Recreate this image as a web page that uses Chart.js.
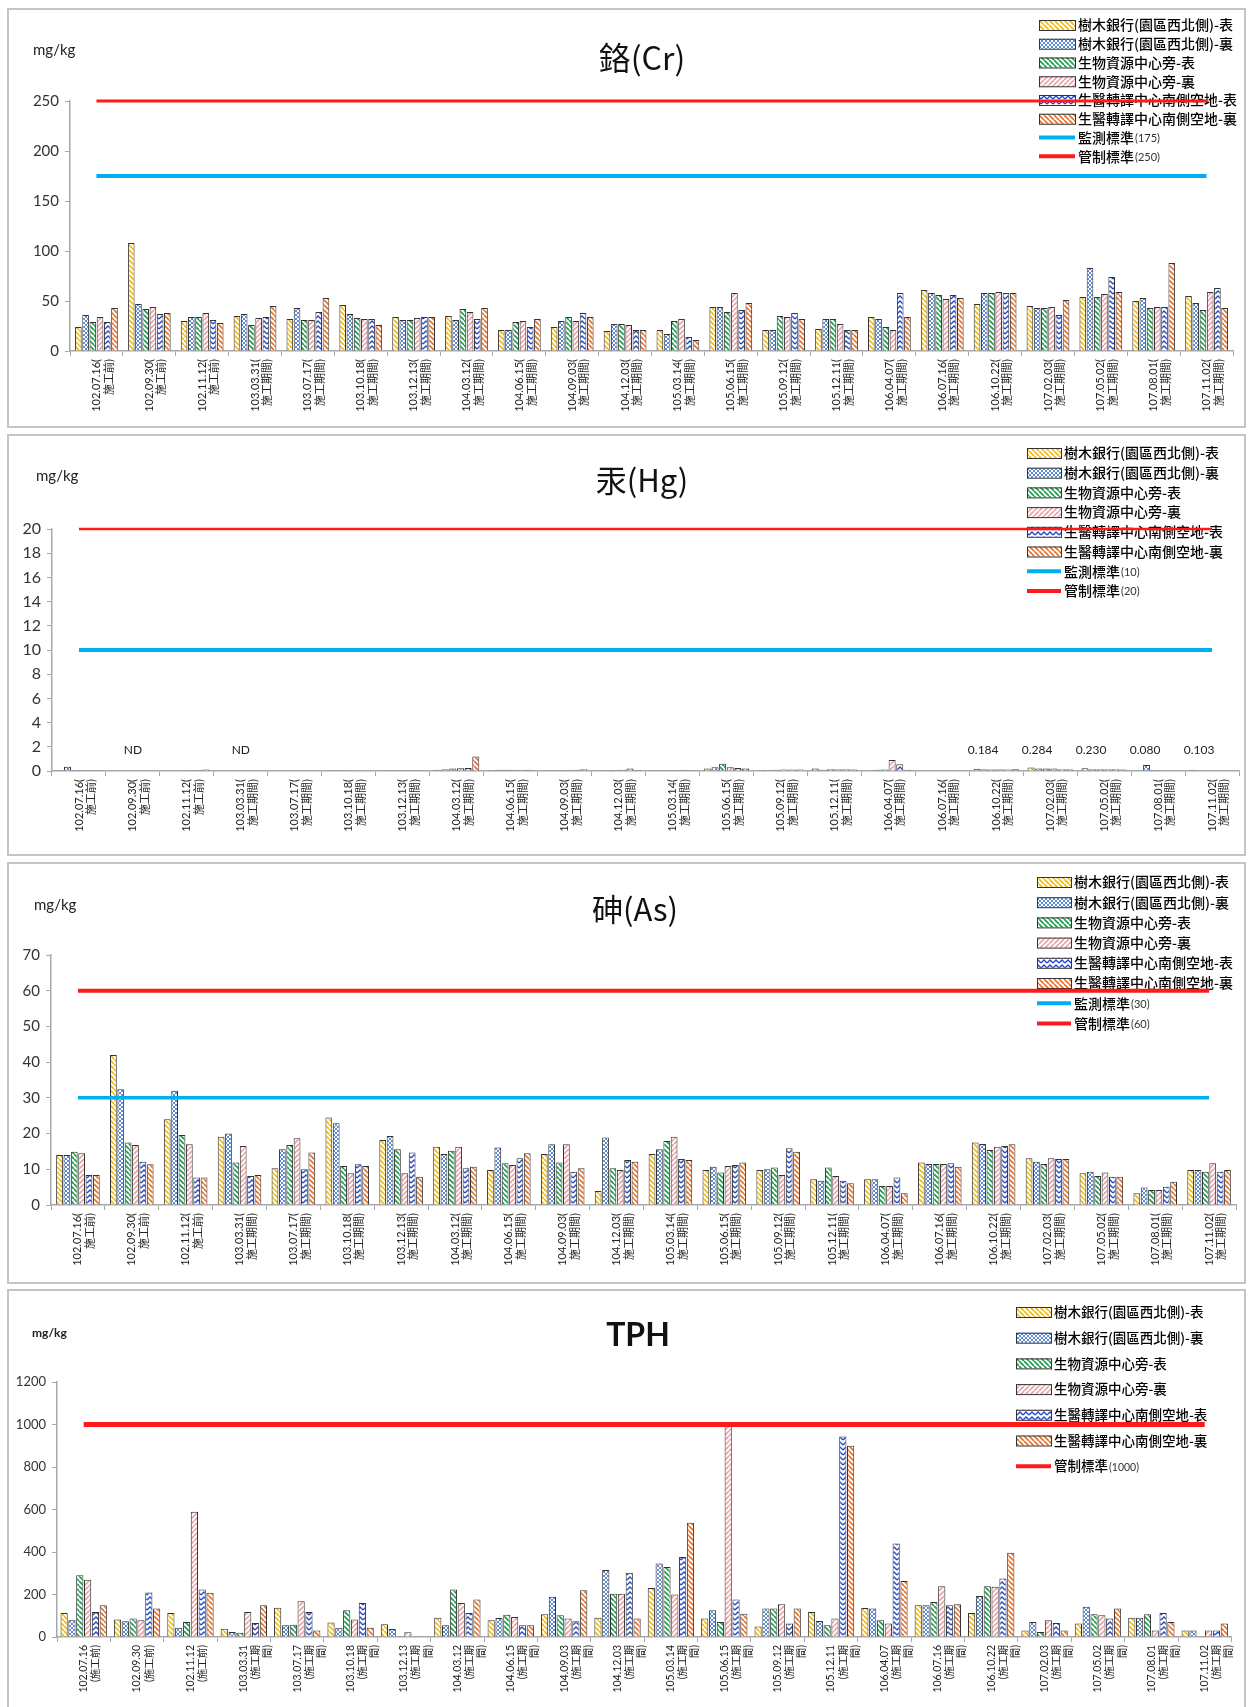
<!DOCTYPE html>
<html>
<head>
<meta charset="utf-8">
<script src="https://cdn.jsdelivr.net/npm/chart.js@4.4.1/dist/chart.umd.min.js"></script>
<style>
  body { margin: 0; background: #fff; width: 1250px; height: 1707px; overflow: hidden; position: relative; }
  .panel { position: absolute; box-sizing: border-box; border: 2px solid #c4c4c4; background: #fff; }
  .panel canvas { display: block; }
</style>
</head>
<body>
<div class="panel" style="left:7px;top:8px;width:1239px;height:420px"><canvas id="cr" width="1235" height="416"></canvas></div>
<div class="panel" style="left:7px;top:434px;width:1239px;height:422px"><canvas id="hg" width="1235" height="418"></canvas></div>
<div class="panel" style="left:7px;top:862px;width:1239px;height:422px"><canvas id="as" width="1235" height="418"></canvas></div>
<div class="panel" style="left:7px;top:1289px;width:1239px;height:420px"><canvas id="tph" width="1235" height="416"></canvas></div>
<script>
// sampling dates (ROC calendar) and construction phase
const dates = ['102.07.16','102.09.30','102.11.12','103.03.31','103.07.17','103.10.18','103.12.13',
  '104.03.12','104.06.15','104.09.03','104.12.03','105.03.14','105.06.15','105.09.12','105.12.11',
  '106.04.07','106.07.16','106.10.22','107.02.03','107.05.02','107.08.01','107.11.02'];
const phases = ['施工前','施工前','施工前','施工期間','施工期間','施工期間','施工期間','施工期間','施工期間',
  '施工期間','施工期間','施工期間','施工期間','施工期間','施工期間','施工期間','施工期間','施工期間',
  '施工期間','施工期間','施工期間','施工期間'];

const seriesNames = ['樹木銀行(園區西北側)-表','樹木銀行(園區西北側)-裏','生物資源中心旁-表',
  '生物資源中心旁-裏','生醫轉譯中心南側空地-表','生醫轉譯中心南側空地-裏'];

// 鉻 Cr
const crTreeTop   = [24,108,30,35,32,46,34,35,21,24,20,21,44,21,22,34,61,47,45,54,50,55];
const crTreeSub   = [36,47,34,37,43,37,31,31,21,30,27,17,44,21,32,32,58,58,43,83,53,48];
const crBioTop    = [29,42,34,26,31,33,31,42,29,34,27,30,39,35,32,24,56,58,43,54,43,41];
const crBioSub    = [34,44,38,33,31,32,33,39,30,30,26,32,58,34,27,21,52,59,44,57,44,59];
const crMedTop    = [29,37,31,34,39,32,34,32,24,38,21,14,41,38,21,58,56,58,36,74,44,63];
const crMedSub    = [43,38,28,45,53,26,34,43,32,34,21,11,48,32,21,34,53,58,51,59,88,43];
const crMonitor = 175, crControl = 250;

// 汞 Hg
const hgTreeTop = [0.08,0.04,0.05,0,0.05,0.06,0.06,0.1,0.08,0.06,0.06,0.06,0.2,0.08,0.2,0.05,0.05,0.184,0.284,0.23,0.05,0.103];
const hgTreeSub = [0.35,0.04,0.05,0,0.04,0.06,0.06,0.15,0.1,0.06,0.06,0.06,0.3,0.08,0.1,0.1,0.05,0.15,0.2,0.15,0.5,0.05];
const hgBioTop  = [0.08,0.04,0.05,0,0,0.06,0.06,0.2,0.1,0.06,0.08,0.06,0.6,0.1,0.15,0.12,0.05,0.12,0.2,0.15,0.08,0.05];
const hgBioSub  = [0.06,0.04,0.06,0.04,0.04,0.07,0.06,0.22,0.1,0.08,0.1,0.06,0.3,0.12,0.15,0.9,0.05,0.15,0.2,0.15,0.05,0.05];
const hgMedTop  = [0.06,0.04,0.08,0.04,0.05,0.07,0.06,0.25,0.1,0.1,0.2,0.1,0.25,0.12,0.15,0.55,0.05,0.12,0.15,0.15,0.05,0.05];
const hgMedSub  = [0.06,0.04,0.12,0.04,0.05,0.07,0.06,1.2,0.1,0.15,0.08,0.06,0.2,0.12,0.12,0.1,0.05,0.14,0.15,0.12,0.05,0.05];
const hgNotes   = ['','ND','','ND','','','','','','','','','','','','','','0.184','0.284','0.230','0.080','0.103'];
const hgMonitor = 10, hgControl = 20;

// 砷 As
const asTreeTop = [14,42,24,19.1,10.3,24.5,18.2,16.3,9.8,14.3,3.9,14.3,9.8,9.8,7.2,7.2,11.9,17.5,13.1,8.9,3.3,9.8];
const asTreeSub = [14,32.4,32,20,15.6,22.9,19.3,14.3,16.1,17,18.9,15.6,10.7,10,6.8,7.2,11.5,17.1,12.1,9.3,4.9,9.8];
const asBioTop  = [14.9,17.5,19.6,11.9,16.8,10.9,15.6,15.2,11.7,11.9,10.3,17.9,9.1,10.5,10.5,5.3,11.5,15.4,11.5,8.1,4.2,9.3];
const asBioSub  = [14.5,16.8,17,16.5,18.7,8.9,8.9,16.3,11.2,17,9.8,19.1,10.9,8.4,8.1,5.3,11.5,16.3,13.1,9.1,4.2,11.7];
const asMedTop  = [8.4,12.1,7.7,8.1,10,11.4,14.7,10.3,13.1,9.3,12.6,12.9,11.2,15.9,6.8,7.7,11.7,16.5,12.9,7.9,5.1,9.3];
const asMedSub  = [8.4,11.4,7.7,8.4,14.7,10.9,7.9,10.7,14.5,10.3,12.1,12.6,11.9,14.9,6.1,3.3,10.7,17,12.9,7.9,6.5,9.8];
const asMonitor = 30, asControl = 60;

// TPH
const tphTreeTop = [113,82,113,39,138,68,60,91,79,107,91,231,87,50,118,137,149,113,31,63,91,31];
const tphTreeSub = [79,74,44,24,55,44,38,55,90,189,315,346,126,134,75,134,149,193,71,142,91,31];
const tphBioTop  = [291,87,71,20,58,126,0,223,105,102,204,330,71,134,55,79,165,239,24,107,107,0];
const tphBioSub  = [270,79,590,118,168,82,22,160,94,87,204,200,1000,154,87,63,239,236,79,102,31,31];
const tphMedTop  = [118,209,223,66,118,160,0,113,55,74,302,377,176,63,944,440,149,275,66,87,113,31];
const tphMedSub  = [149,134,208,149,31,44,0,176,55,220,87,538,110,134,900,263,154,396,31,134,71,63];
const tphControl = 1000;

const LATIN = "Lato, 'Noto Sans CJK TC', sans-serif";
const CJK = "'Noto Sans CJK TC', Lato, sans-serif";
const BLUE = '#00aff0', RED = '#ff1a1a';

function stripes(color, dir) {
  const n = 5, c = document.createElement('canvas');
  c.width = n; c.height = n;
  const g = c.getContext('2d');
  g.fillStyle = '#fff'; g.fillRect(0, 0, n, n);
  g.strokeStyle = color; g.lineWidth = 1.7;
  g.beginPath();
  for (const k of [-n, 0, n]) {
    if (dir > 0) { g.moveTo(k, n); g.lineTo(k + n, 0); }
    else { g.moveTo(k, 0); g.lineTo(k + n, n); }
  }
  g.stroke();
  return g.createPattern(c, 'repeat');
}
function dots(color) {
  const c = document.createElement('canvas');
  c.width = 4; c.height = 4;
  const g = c.getContext('2d');
  g.fillStyle = color; g.fillRect(0, 0, 4, 4);
  g.fillStyle = '#fff'; g.fillRect(0, 0, 2, 2); g.fillRect(2, 2, 2, 2);
  return g.createPattern(c, 'repeat');
}
function zigzag(color) {
  const c = document.createElement('canvas');
  c.width = 6; c.height = 5;
  const g = c.getContext('2d');
  g.fillStyle = '#fff'; g.fillRect(0, 0, 6, 5);
  g.strokeStyle = color; g.lineWidth = 1.4;
  g.beginPath(); g.moveTo(0, 4); g.lineTo(3, 1); g.lineTo(6, 4); g.stroke();
  return g.createPattern(c, 'repeat');
}
const fills = [stripes('#f2bb16', -1), dots('#5b8bd6'), stripes('#1f9e4e', -1),
  stripes('#eaa3a8', 1), zigzag('#2446c8'), stripes('#e8732c', -1)];

const stdLabels = dates.map((d, i) => [d + '(', phases[i] + ')']);
const tphLabels = dates.map((d, i) => phases[i].length > 3
  ? [d, '(' + phases[i].slice(0, 3), phases[i].slice(3) + ')']
  : [d, '(' + phases[i] + ')']);

const decor = {
  id: 'decor',
  beforeDatasetsDraw(chart, args, o) {
    const ctx = chart.ctx, L = o.legend;
    ctx.save();
    ctx.textBaseline = 'middle';
    let y = L.y;
    chart.data.datasets.forEach(ds => {
      if (ds.type === 'bar') {
        ctx.fillStyle = ds.backgroundColor;
        ctx.fillRect(L.x, y - L.h / 2, L.w, L.h);
        ctx.strokeStyle = '#333'; ctx.lineWidth = 1;
        ctx.strokeRect(L.x + 0.5, y - L.h / 2 + 0.5, L.w, L.h);
        ctx.font = '500 ' + L.size + 'px ' + CJK; ctx.fillStyle = '#000';
        ctx.fillText(ds.label, L.x + L.w + 3, y);
      } else {
        ctx.strokeStyle = ds.borderColor; ctx.lineWidth = 4;
        ctx.beginPath(); ctx.moveTo(L.x, y); ctx.lineTo(L.x + L.w, y); ctx.stroke();
        const cut = ds.label.indexOf('(');
        const main = ds.label.slice(0, cut), sub = ds.label.slice(cut);
        ctx.font = '500 ' + L.size + 'px ' + CJK; ctx.fillStyle = '#000';
        ctx.fillText(main, L.x + L.w + 3, y);
        const w = ctx.measureText(main).width;
        ctx.font = (L.size - 3) + 'px ' + LATIN; ctx.fillStyle = '#333';
        ctx.fillText(sub, L.x + L.w + 4 + w, y + 1);
      }
      y += L.dy;
    });
    ctx.restore();
  },
  afterDraw(chart, args, o) {
    const ctx = chart.ctx;
    ctx.save();
    ctx.textBaseline = 'middle'; ctx.textAlign = 'center'; ctx.fillStyle = '#111';
    ctx.font = o.titleFont;
    ctx.fillText(o.title, o.titleX, o.titleY);
    ctx.textAlign = 'left'; ctx.fillStyle = '#222';
    ctx.font = o.unitFont;
    ctx.fillText('mg/kg', o.unitX, o.unitY);
    if (o.notes) {
      ctx.textAlign = 'center'; ctx.font = '12px ' + LATIN; ctx.fillStyle = '#222';
      const xs = chart.scales.x, ys = chart.scales.y;
      o.notes.forEach((t, i) => {
        if (!t) return;
        const dx = t === 'ND' ? 0 : -13;
        ctx.fillText(t, xs.getPixelForValue(i) + dx, ys.getPixelForValue(1.7));
      });
    }
    ctx.restore();
  }
};

function makeChart(id, p) {
  const datasets = p.series.map((vals, i) => ({
    type: 'bar', label: seriesNames[i], data: vals,
    backgroundColor: fills[i], borderColor: '#333', borderWidth: 1,
    categoryPercentage: p.catPct, barPercentage: 0.92, order: 2
  }));
  p.lines.forEach(s => datasets.push({
    type: 'line', label: s.label, data: dates.map(() => s.value),
    borderColor: s.color, borderWidth: s.width, pointRadius: 0, fill: false,
    clip: false, order: 1
  }));
  return new Chart(document.getElementById(id), {
    type: 'bar',
    data: { labels: p.labels, datasets: datasets },
    options: {
      responsive: false,
      animation: false,
      layout: { padding: { left: 0, top: p.top, right: p.right, bottom: 0 } },
      plugins: {
        legend: { display: false },
        tooltip: { enabled: false },
        decor: p.decor
      },
      scales: {
        x: {
          grid: { drawOnChartArea: false, tickLength: 5, color: '#a8a8a8' },
          border: { color: '#a8a8a8', width: 1.5 },
          ticks: {
            autoSkip: false, minRotation: 90, maxRotation: 90, padding: 3,
            color: '#222', font: { family: LATIN, size: p.xFont, lineHeight: 1.15 }
          },
          afterFit(s) { s.height = p.xH; }
        },
        y: {
          min: 0, max: p.max,
          grid: { drawOnChartArea: false, tickLength: 5, color: '#a8a8a8' },
          border: { color: '#a8a8a8', width: 1.5 },
          ticks: {
            stepSize: p.step, padding: 6, color: '#333',
            font: { family: LATIN, size: p.yFont },
            callback: v => String(v)
          },
          afterFit(s) { s.width = p.yW; }
        }
      }
    },
    plugins: [decor]
  });
}

makeChart('cr', {
  labels: stdLabels,
  series: [crTreeTop, crTreeSub, crBioTop, crBioSub, crMedTop, crMedSub],
  lines: [
    { label: '監測標準(' + crMonitor + ')', value: crMonitor, color: BLUE, width: 4 },
    { label: '管制標準(' + crControl + ')', value: crControl, color: RED, width: 3 }
  ],
  max: 250, step: 50, yW: 61, xH: 75, top: 91, right: 11, yFont: 15, xFont: 11, catPct: 0.82,
  decor: {
    title: '鉻(Cr)', titleFont: '32px ' + CJK, titleX: 633, titleY: 48,
    unitFont: '15px ' + LATIN, unitX: 24, unitY: 40,
    legend: { x: 1030, y: 15, dy: 18.75, w: 36, h: 10, size: 14 }
  }
});

makeChart('hg', {
  labels: stdLabels,
  series: [hgTreeTop, hgTreeSub, hgBioTop, hgBioSub, hgMedTop, hgMedSub],
  lines: [
    { label: '監測標準(' + hgMonitor + ')', value: hgMonitor, color: BLUE, width: 4 },
    { label: '管制標準(' + hgControl + ')', value: hgControl, color: RED, width: 2.5 }
  ],
  max: 20, step: 2, yW: 43, xH: 83, top: 93, right: 5, yFont: 16, xFont: 11, catPct: 0.85,
  decor: {
    title: '汞(Hg)', titleFont: '31px ' + CJK, titleX: 633, titleY: 44,
    unitFont: '15px ' + LATIN, unitX: 27, unitY: 40, notes: hgNotes,
    legend: { x: 1018, y: 17, dy: 19.7, w: 34, h: 10, size: 14 }
  }
});

makeChart('as', {
  labels: stdLabels,
  series: [asTreeTop, asTreeSub, asBioTop, asBioSub, asMedTop, asMedSub],
  lines: [
    { label: '監測標準(' + asMonitor + ')', value: asMonitor, color: BLUE, width: 3.5 },
    { label: '管制標準(' + asControl + ')', value: asControl, color: RED, width: 4 }
  ],
  max: 70, step: 10, yW: 42, xH: 77, top: 91, right: 8, yFont: 15, xFont: 11, catPct: 0.82,
  decor: {
    title: '砷(As)', titleFont: '31px ' + CJK, titleX: 626, titleY: 45,
    unitFont: '15px ' + LATIN, unitX: 25, unitY: 41,
    legend: { x: 1028, y: 18, dy: 20.2, w: 34, h: 10, size: 14 }
  }
});

makeChart('tph', {
  labels: tphLabels,
  series: [tphTreeTop, tphTreeSub, tphBioTop, tphBioSub, tphMedTop, tphMedSub],
  lines: [
    { label: '管制標準(' + tphControl + ')', value: tphControl, color: RED, width: 5 }
  ],
  max: 1200, step: 200, yW: 48, xH: 70, top: 91, right: 2, yFont: 13, xFont: 10.5, catPct: 0.88,
  decor: {
    title: 'TPH', titleFont: 'bold 32px ' + LATIN, titleX: 629, titleY: 45,
    unitFont: 'bold 12px ' + LATIN, unitX: 23, unitY: 42,
    legend: { x: 1007, y: 21, dy: 25.7, w: 35, h: 10, size: 13.5 }
  }
});
</script>
</body>
</html>
